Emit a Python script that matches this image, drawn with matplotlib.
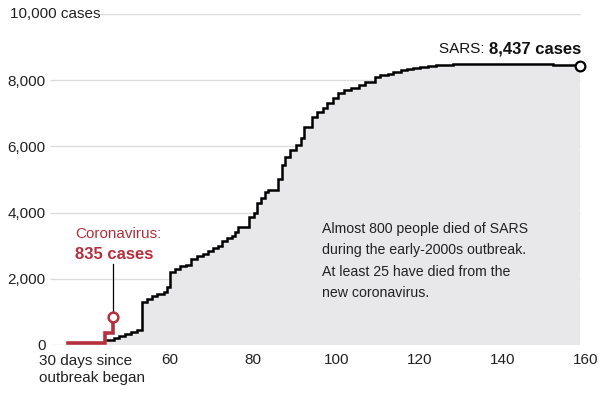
import matplotlib
matplotlib.use("Agg")
import matplotlib.pyplot as plt
from matplotlib.transforms import blended_transform_factory, offset_copy

plt.rcParams['font.family'] = ['Liberation Sans', 'DejaVu Sans']

# SARS cumulative cases by days since outbreak began
sars_days = [44.8, 46.5, 47.8, 49.2, 50.6, 52.0, 53.2, 54.4, 55.6, 57.0,
             58.6, 59.3, 60.0, 61.3, 62.5, 63.8, 65.2, 66.6, 67.9, 69.2,
             70.4, 71.6, 72.5, 73.7, 75.0, 75.7, 76.3, 79.1, 80.3, 80.9,
             82.0, 82.9, 83.7, 85.9, 86.9, 87.7, 88.9, 90.3, 91.5, 92.3,
             94.2, 95.3, 96.7, 97.7, 99.1, 100.3, 101.9, 103.6, 105.4, 107.0,
             109.3, 110.5, 112.5, 113.7, 115.5, 117.0, 118.5, 120.1, 122.0, 124.0,
             128.0, 134.5, 140.0, 146.6, 152.0, 158.6]
sars_cases = [150, 220, 280, 330, 380, 440, 1310, 1400, 1480, 1530,
              1600, 1760, 2200, 2300, 2380, 2420, 2600, 2680, 2760, 2840,
              2920, 2980, 3150, 3240, 3300, 3420, 3550, 3880, 3980, 4280,
              4430, 4630, 4680, 5030, 5440, 5690, 5880, 6040, 6240, 6595,
              6900, 7050, 7150, 7300, 7450, 7600, 7700, 7770, 7850, 7950,
              8090, 8160, 8200, 8240, 8300, 8340, 8380, 8410, 8440, 8460,
              8480, 8500, 8500, 8490, 8470, 8437]

# new coronavirus
cov_days = [35.5, 44.4, 46.3]
cov_cases = [60, 360, 835]

yticks = [0, 2000, 4000, 6000, 8000]
ytick_labels = ['0', '2,000', '4,000', '6,000', '8,000']
xticks = [60, 80, 100, 120, 140, 160]

red = '#b5303c'
fill_gray = '#e8e8ea'
grid_gray = '#dcdcdc'
txt = '#222222'

fig = plt.figure(figsize=(6.01, 3.97), dpi=100)
ax = fig.add_axes([50 / 601, 52 / 397, 536 / 601, 331 / 397])
ax.set_xlim(31.2, 160)
ax.set_ylim(0, 10000)

xmin, xend = 31.2, sars_days[-1]
for y in yticks:
    ax.hlines(y, xmin, xend, color=grid_gray, lw=1, zorder=0)
ax.hlines(10000, 43.0, xend, color=grid_gray, lw=1, zorder=0)

ax.fill_between(sars_days, sars_cases, step='post', color=fill_gray,
                lw=0, zorder=1)
ax.plot(sars_days, sars_cases, drawstyle='steps-post', color='black',
        lw=1.8, zorder=3, solid_joinstyle='miter')
ax.plot(sars_days[-1], sars_cases[-1], 'o', ms=7, mfc='white', mec='black',
        mew=1.6, zorder=5, clip_on=False)

ax.plot(cov_days, cov_cases, drawstyle='steps-post', color=red, lw=2.6,
        zorder=4, solid_joinstyle='miter')
ax.plot([cov_days[-1], cov_days[-1]], [1010, 2460], color='black', lw=0.9,
        zorder=4)
ax.plot(cov_days[-1], cov_cases[-1], 'o', ms=7, mfc='white', mec=red,
        mew=1.8, zorder=5)

for s in ax.spines.values():
    s.set_visible(False)
ax.set_yticks(yticks)
ax.set_yticklabels(ytick_labels)
ax.set_xticks(xticks)
ax.set_xticklabels([str(x) for x in xticks])
ax.tick_params(length=0, labelsize=11, colors=txt)
ax.tick_params(axis='y', pad=3)
ax.tick_params(axis='x', pad=6)

trans = blended_transform_factory(fig.transFigure, ax.transData)
ax.text(10 / 601, 10000, '10,000 cases', transform=trans, ha='left',
        va='center', fontsize=11, color=txt)
ax.text(28.6, -260, '30 days since\noutbreak began', ha='left', va='top',
        fontsize=11, color=txt, linespacing=1.3)

ax.text(37.2, 3350, 'Coronavirus:', color=red, fontsize=11, ha='left',
        va='center')
ax.text(37.2, 2740, '835 cases', color=red, fontsize=12, ha='left',
        va='center', fontweight='bold')

bold = ax.text(158.9, 8950, '8,437 cases', ha='right', va='center',
               fontsize=12, fontweight='bold', color='#111111')
fig.canvas.draw()
w = bold.get_window_extent().width
ax.text(158.9, 8950, 'SARS: ', ha='right', va='center', fontsize=11,
        color='#111111',
        transform=offset_copy(ax.transData, fig=fig, x=-w * 72 / fig.dpi,
                              units='points'))

ax.text(96.5, 3720, 'Almost 800 people died of SARS\nduring the early-2000s outbreak.\n'
        'At least 25 have died from the\nnew coronavirus.', ha='left', va='top',
        fontsize=10.2, color=txt, linespacing=1.68)

fig.savefig('out.png', dpi=100)
